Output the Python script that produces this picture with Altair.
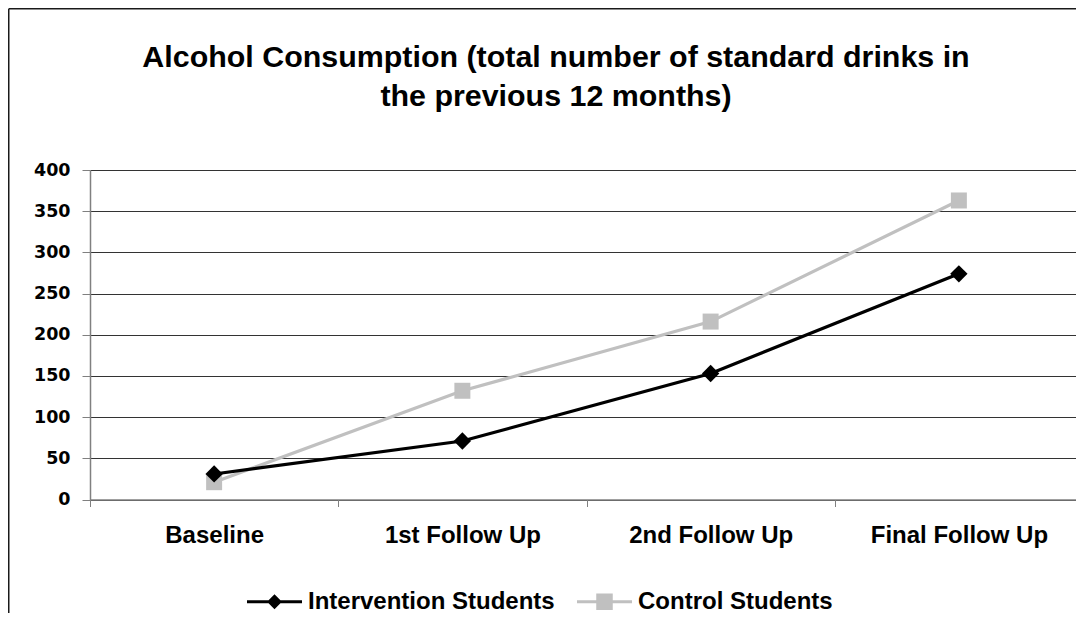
import altair as alt
import pandas as pd

categories = ["Baseline", "1st Follow Up", "2nd Follow Up", "Final Follow Up"]
intervention = [31, 71, 153, 274]
control = [21, 132, 216, 363]
series_names = ["Intervention Students", "Control Students"]
series_colors = ["#000000", "#c0c0c0"]
legend_paths = [
    "M-1,-0.058H1V0.058H-1Z M0,-0.27L0.27,0L0,0.27L-0.27,0Z",
    "M-1,-0.058H1V0.058H-1Z M-0.3,-0.3H0.3V0.3H-0.3Z",
]

rows = []
for c, v in zip(categories, intervention):
    rows.append({"cat": c, "value": v, "series": series_names[0]})
for c, v in zip(categories, control):
    rows.append({"cat": c, "value": v, "series": series_names[1]})
df = pd.DataFrame(rows)

PLOT_W = 986
PLOT_H = 329.5
BAND_RANGE = 993

x_enc = alt.X(
    "cat:N",
    sort=categories,
    scale=alt.Scale(range=[0, BAND_RANGE], paddingInner=0, paddingOuter=0),
    axis=alt.Axis(
        title=None,
        labelAngle=0,
        labelFont="Liberation Sans",
        labelFontWeight="bold",
        labelFontSize=24,
        labelColor="#000000",
        labelPadding=17,
        tickBand="extent",
        tickSize=7,
        tickColor="#808080",
        domainColor="#808080",
        domainWidth=1.5,
        grid=False,
    ),
)
y_enc = alt.Y(
    "value:Q",
    scale=alt.Scale(domain=[0, 400], nice=False),
    axis=alt.Axis(
        title=None,
        values=list(range(0, 401, 50)),
        labelFont="DejaVu Sans",
        labelFontWeight="bold",
        labelFontSize=17.5,
        labelColor="#000000",
        labelPadding=12,
        tickSize=8,
        tickColor="#808080",
        domainColor="#808080",
        domainWidth=1.5,
        grid=True,
        gridColor="#333333",
        gridWidth=1,
    ),
)

base = alt.Chart(df)


def series_layers(name, color, shape, size):
    sub = base.transform_filter(alt.datum.series == name)
    line = sub.mark_line(strokeWidth=3.2, color=color).encode(x=x_enc, y=y_enc)
    pts = sub.mark_point(
        shape=shape, filled=True, size=size, opacity=1, color=color
    ).encode(x=x_enc, y=y_enc)
    return [line, pts]


ctl_layers = series_layers(series_names[1], series_colors[1], "square", 256)
int_layers = series_layers(series_names[0], series_colors[0], "diamond", 300)

legend_props = dict(
    title=None,
    orient="none",
    legendX=157,
    legendY=404,
    direction="horizontal",
    symbolSize=3025,
    symbolStrokeWidth=0,
    symbolOpacity=1,
    labelFont="Liberation Sans",
    labelFontWeight="bold",
    labelFontSize=24,
    labelColor="#000000",
    labelOffset=6,
    columnPadding=22,
    padding=0,
    labelLimit=400,
)

legend_layer = base.transform_filter("datum.value < -1").mark_point(
    filled=True, opacity=1
).encode(
    x=x_enc,
    y=y_enc,
    color=alt.Color(
        "series:N",
        scale=alt.Scale(domain=series_names, range=series_colors),
        legend=alt.Legend(**legend_props),
    ),
    shape=alt.Shape(
        "series:N",
        scale=alt.Scale(domain=series_names, range=legend_paths),
        legend=alt.Legend(**legend_props),
    ),
)

border_data = alt.Data(values=[{"k": 1}])
border_top = alt.Chart(border_data).mark_rule(color="#1a1a1a", strokeWidth=1.5).encode(
    x=alt.value(-81.25), x2=alt.value(PLOT_W + 10), y=alt.value(-161.25)
)
border_left = alt.Chart(border_data).mark_rule(color="#1a1a1a", strokeWidth=1.5).encode(
    x=alt.value(-81.25), y=alt.value(-161.25), y2=alt.value(PLOT_H + 130)
)

chart = (
    alt.layer(legend_layer, *ctl_layers, *int_layers, border_top, border_left)
    .properties(
        width=PLOT_W,
        height=PLOT_H,
        autosize=alt.AutoSizeParams(type="none"),
        padding={"left": 82, "top": 162, "right": 0, "bottom": 113.5},
        title=alt.Title(
            text=[
                "Alcohol Consumption (total number of standard drinks in",
                "the previous 12 months)",
            ],
            font="Liberation Sans",
            fontWeight="bold",
            fontSize=30.4,
            color="#000000",
            lineHeight=39,
            anchor="middle",
            dx=-27,
            offset=-104,
        ),
        background="#ffffff",
    )
    .configure_view(stroke=None)
)

chart.save("out.html", embed_options={"renderer": "svg", "actions": False})
